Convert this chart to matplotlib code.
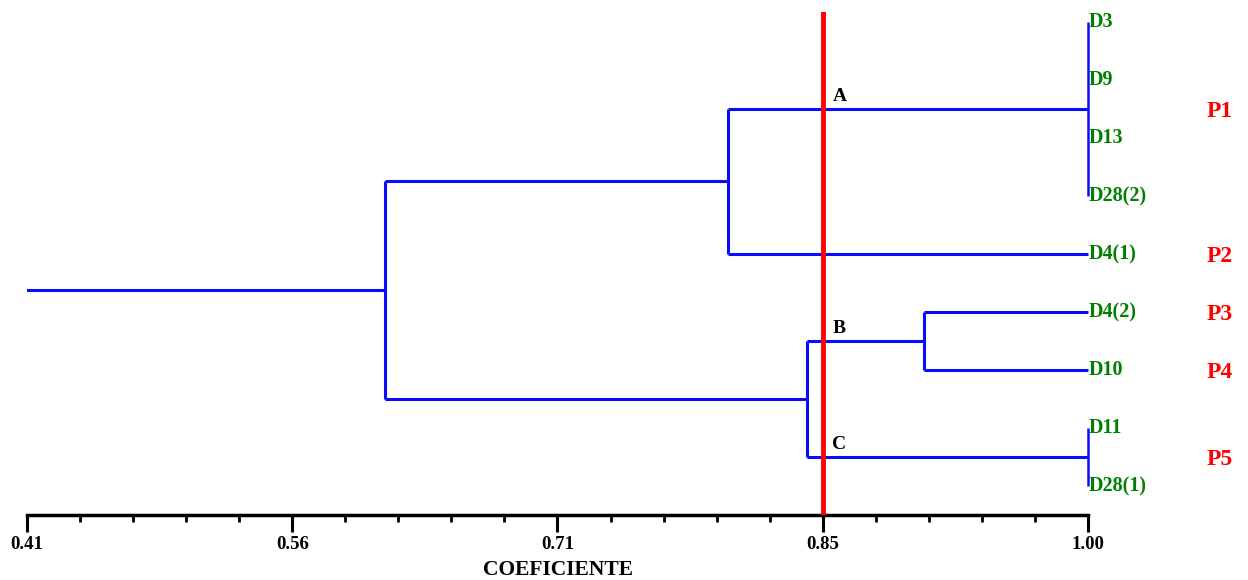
import matplotlib.pyplot as plt
from matplotlib.ticker import FixedLocator

# leaves, top to bottom
leaves = ['D3', 'D9', 'D13', 'D28(2)', 'D4(1)', 'D4(2)', 'D10', 'D11', 'D28(1)']
# merges: (name, children, similarity)
merges = [
    ('n1', ['D3', 'D9', 'D13', 'D28(2)'], 1.00),
    ('n2', ['D11', 'D28(1)'], 1.00),
    ('n3', ['D4(2)', 'D10'], 0.909),
    ('n4', ['n1', 'D4(1)'], 0.80),
    ('n5', ['n3', 'n2'], 0.844),
    ('root', ['n4', 'n5'], 0.609),
]
root_start = 0.41
cut = 0.8525
# branch crossed by the cut line -> label
cut_label_nodes = [('n1', 'A'), ('n3', 'B'), ('n2', 'C')]
groups = ['P1', 'P2', 'P3', 'P4', 'P5']
group_members = [['D3', 'D9', 'D13', 'D28(2)'], ['D4(1)'], ['D4(2)'], ['D10'], ['D11', 'D28(1)']]
tick_values = [0.41, 0.5575, 0.705, 0.8525, 1.00]
tick_labels = ['0.41', '0.56', '0.71', '0.85', '1.00']

serif = 'Liberation Serif'
blue = '#0a0aff'

fig = plt.figure(figsize=(12.48, 5.8), dpi=100)
ax = fig.add_axes([27 / 1248, 1 - 515 / 580, 1061 / 1248, 503 / 580])

ypos = {name: -i for i, name in enumerate(leaves)}
xpos = {name: 1.00 for name in leaves}
for name, kids, h in merges:
    ys = [ypos[k] for k in kids]
    ypos[name] = (min(ys) + max(ys)) / 2 if len(kids) > 2 else sum(ys) / len(ys)
    xpos[name] = h
    lw = 1.8 if h == 1.00 else 2.2
    ax.plot([h, h], [min(ys), max(ys)], color=blue, lw=lw, solid_capstyle='butt', clip_on=False)
    for k in kids:
        if xpos[k] != h:
            ax.plot([h, xpos[k]], [ypos[k], ypos[k]], color=blue, lw=2.2,
                    solid_capstyle='butt', clip_on=False)
ax.plot([root_start, merges[-1][2]], [ypos['root'], ypos['root']], color=blue, lw=2.2)

ax.axvline(cut, color='red', lw=3.5, zorder=5)

for node, lab in cut_label_nodes:
    ax.annotate(lab, (cut, ypos[node]), xytext=(7, 3), textcoords='offset points',
                fontsize=14, fontweight='bold', family=serif, ha='left', va='bottom')

for lf in leaves:
    ax.text(1.0003, ypos[lf], lf, color='green', fontsize=14.5, fontweight='bold',
            family=serif, ha='left', va='center', clip_on=False)

for g, mem in zip(groups, group_members):
    ys = [ypos[m] for m in mem]
    ax.text(1.073, sum(ys) / len(ys) - 0.04, g, color='red', fontsize=17, fontweight='bold',
            family=serif, ha='center', va='center', clip_on=False)

ax.set_xlim(0.41, 1.00)
ax.set_ylim(-8.5, 0.172)
for s in ['top', 'right', 'left']:
    ax.spines[s].set_visible(False)
ax.spines['bottom'].set_linewidth(2.5)
ax.set_yticks([])
ax.set_xticks(tick_values)
ax.set_xticklabels(tick_labels, fontsize=13.5, fontweight='bold', family=serif)
minor = [tick_values[0] + i * 0.0295 for i in range(21)]
ax.xaxis.set_minor_locator(FixedLocator(minor))
ax.tick_params(axis='x', which='major', length=12, width=2.2, pad=3)
ax.tick_params(axis='x', which='minor', length=5, width=2)
ax.set_xlabel('COEFICIENTE', fontsize=15.5, fontweight='bold', family=serif, labelpad=5)
ax.patch.set_visible(False)

fig.savefig('out.png', dpi=100)
